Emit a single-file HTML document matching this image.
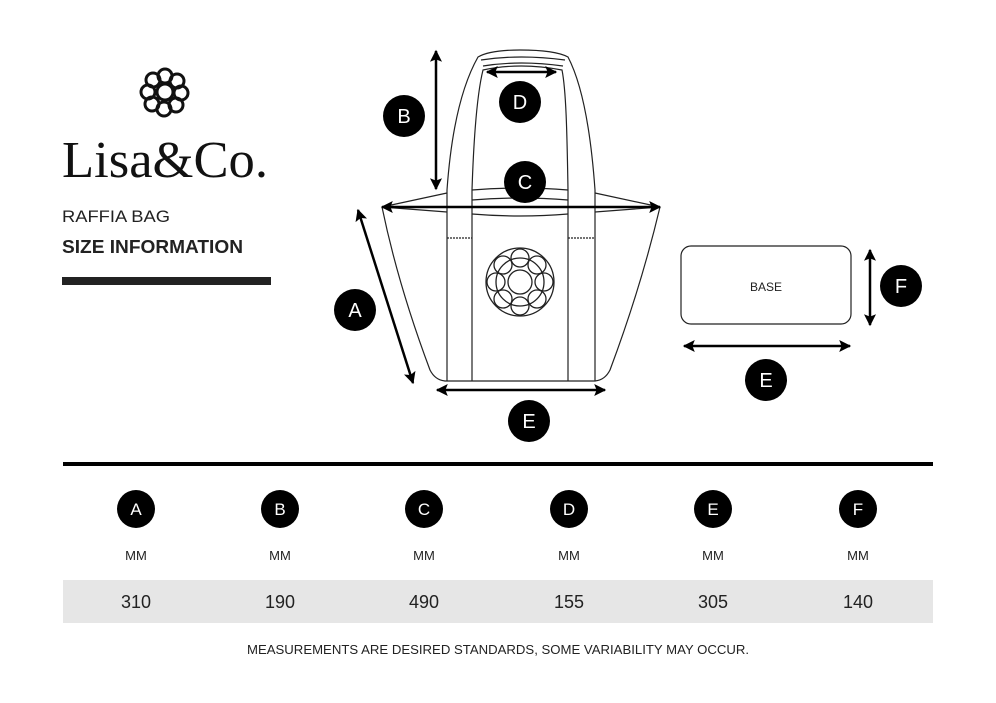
<!DOCTYPE html>
<html><head><style>
body{margin:0;background:#fff;}
svg text{font-family:"Liberation Sans",sans-serif;}
</style></head><body>
<svg width="996" height="698" viewBox="0 0 996 698" xmlns="http://www.w3.org/2000/svg">
<defs>
<marker id="ah" viewBox="0 0 10 10" refX="9" refY="5" markerWidth="14" markerHeight="12" orient="auto-start-reverse" markerUnits="userSpaceOnUse"><path d="M0,0 L10,5 L0,10 L2,5 Z" fill="#000"/></marker>
</defs>
<rect width="996" height="698" fill="#fff"/>
<g fill="none" stroke="#111" stroke-width="3">
<circle cx="165" cy="92" r="8"/>
<circle cx="165" cy="76" r="7"/><circle cx="177" cy="81" r="7"/><circle cx="181" cy="93" r="7"/><circle cx="176" cy="105" r="7"/>
<circle cx="164" cy="109" r="7"/><circle cx="152" cy="104" r="7"/><circle cx="148" cy="92" r="7"/><circle cx="153" cy="80" r="7"/>
</g>
<text x="62" y="177" font-size="52" fill="#111" style="font-family:'Liberation Serif',serif" textLength="206" lengthAdjust="spacingAndGlyphs">Lisa&amp;Co.</text>
<text x="62" y="222" font-size="17" fill="#222" textLength="108" lengthAdjust="spacingAndGlyphs">RAFFIA BAG</text>
<text x="62" y="253" font-size="18" font-weight="bold" fill="#222" textLength="181" lengthAdjust="spacingAndGlyphs">SIZE INFORMATION</text>
<rect x="62" y="277" width="209" height="8" fill="#222"/>
<g fill="none" stroke="#222" stroke-width="1.2">
<path d="M447,207 L447,190 C452,120 465,80 478,57 Q490,50 520,50 Q555,50 568,57 C580,80 590,120 595,190 L595,207"/>
<path d="M472,207 L472,190 C474,130 478,90 483,70 Q520,62 562,70 C566,90 567,130 568,190 L568,207"/>
<path d="M481,60 Q520,54 565,60 M483,66 Q520,60 563,66"/>
<path d="M382,207 L447,193 M382,207 L447,212 M660,207 L595,193 M660,207 L595,212"/>
<path d="M472,190 Q520,186 568,190 M472,200 Q520,196 568,200 M472,214 Q520,218 568,214"/>
<path d="M382,207 C395,270 415,330 430,370 Q435,380 445,381 L595,381 Q605,380 610,370 C625,330 645,270 660,207"/>
<path d="M447,207 L447,381 M472,207 L472,381 M568,207 L568,381 M595,207 L595,381"/>
<path d="M447,238 L472,238 M568,238 L595,238" stroke-dasharray="2,1"/>
</g>
<g fill="none" stroke="#222" stroke-width="1.3">
<circle cx="520" cy="282" r="34"/>
<circle cx="520" cy="282" r="24"/>
<circle cx="520" cy="282" r="12"/>
<circle cx="520" cy="258" r="9"/><circle cx="537" cy="265" r="9"/><circle cx="544" cy="282" r="9"/><circle cx="537" cy="299" r="9"/>
<circle cx="520" cy="306" r="9"/><circle cx="503" cy="299" r="9"/><circle cx="496" cy="282" r="9"/><circle cx="503" cy="265" r="9"/>
</g>
<g stroke="#000" stroke-width="2.5" marker-start="url(#ah)" marker-end="url(#ah)">
<line x1="436" y1="51" x2="436" y2="189"/>
<line x1="487" y1="72" x2="556" y2="72"/>
<line x1="382" y1="207" x2="660" y2="207"/>
<line x1="358" y1="210" x2="413" y2="383"/>
<line x1="437" y1="390" x2="605" y2="390"/>
<line x1="870" y1="250" x2="870" y2="325"/>
<line x1="684" y1="346" x2="850" y2="346"/>
</g>
<rect x="681" y="246" width="170" height="78" rx="10" fill="none" stroke="#222" stroke-width="1.2"/>
<text x="766" y="291" font-size="12" text-anchor="middle" fill="#222">BASE</text>
<g fill="#000">
<circle cx="404" cy="116" r="21"/><circle cx="520" cy="102" r="21"/><circle cx="525" cy="182" r="21"/>
<circle cx="355" cy="310" r="21"/><circle cx="529" cy="421" r="21"/><circle cx="766" cy="380" r="21"/><circle cx="901" cy="286" r="21"/>
</g>
<g fill="#fff" font-size="20" text-anchor="middle">
<text x="404" y="123">B</text><text x="520" y="109">D</text><text x="525" y="189">C</text>
<text x="355" y="317">A</text><text x="529" y="428">E</text><text x="766" y="387">E</text><text x="901" y="293">F</text>
</g>
<rect x="63" y="462" width="870" height="4" fill="#000"/>
<rect x="63" y="580" width="870" height="43" fill="#e6e6e6"/>
<g fill="#000"><circle cx="136" cy="509" r="19"/><circle cx="280" cy="509" r="19"/><circle cx="424" cy="509" r="19"/><circle cx="569" cy="509" r="19"/><circle cx="713" cy="509" r="19"/><circle cx="858" cy="509" r="19"/></g>
<g fill="#fff" font-size="17" text-anchor="middle">
<text x="136" y="515">A</text><text x="280" y="515">B</text><text x="424" y="515">C</text><text x="569" y="515">D</text><text x="713" y="515">E</text><text x="858" y="515">F</text>
</g>
<g fill="#222" font-size="13" text-anchor="middle">
<text x="136" y="560">MM</text><text x="280" y="560">MM</text><text x="424" y="560">MM</text><text x="569" y="560">MM</text><text x="713" y="560">MM</text><text x="858" y="560">MM</text>
</g>
<g fill="#222" font-size="18" text-anchor="middle">
<text x="136" y="608">310</text><text x="280" y="608">190</text><text x="424" y="608">490</text><text x="569" y="608">155</text><text x="713" y="608">305</text><text x="858" y="608">140</text>
</g>
<text x="498" y="654" font-size="13" text-anchor="middle" fill="#222" textLength="502" lengthAdjust="spacingAndGlyphs">MEASUREMENTS ARE DESIRED STANDARDS, SOME VARIABILITY MAY OCCUR.</text>
</svg>
</body></html>
